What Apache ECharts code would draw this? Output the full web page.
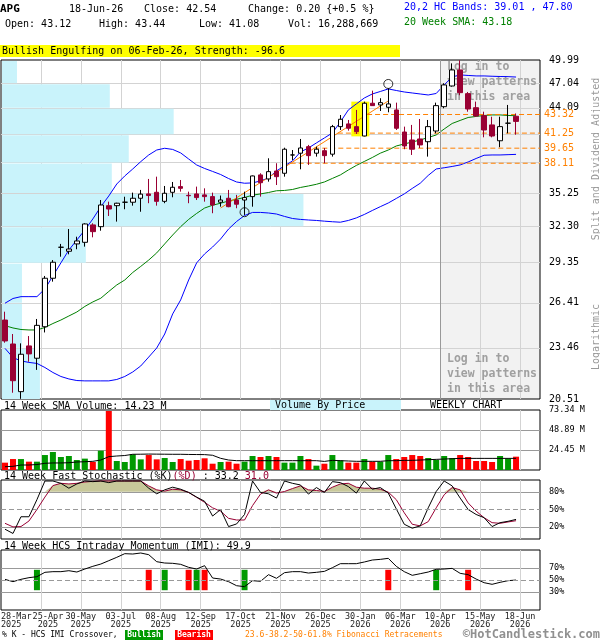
<!DOCTYPE html>
<html>
<head>
<meta charset="utf-8">
<script src="https://cdn.jsdelivr.net/npm/echarts@6.0.0/dist/echarts.min.js"></script>
<style>
html,body{margin:0;padding:0;background:#fff;}
#chart{width:600px;height:640px;}
</style>
</head>
<body>
<div id="chart"></div>
<script>
// ================= DATA (weekly, index 0 = week of 28-Mar-2025) =================
const ticker = 'APG';
const lastDate = '18-Jun-26';
const opens  = [25.24,23.70,20.91,23.58,22.83,24.80,28.17,30.56,30.24,30.83,30.96,32.41,32.26,34.09,34.09,34.40,34.40,34.76,35.16,35.31,34.48,35.31,35.84,35.03,35.16,35.07,34.91,34.40,34.76,34.60,34.60,34.91,36.96,36.57,37.34,37.12,38.95,39.13,39.81,39.13,39.39,39.03,41.96,42.26,41.96,40.94,44.62,44.42,44.15,43.84,41.37,40.51,40.62,40.33,41.48,44.22,46.69,48.70,45.76,44.10,43.19,42.15,40.43,42.34,43.12];
const highs  = [25.80,24.33,23.74,24.20,25.31,28.34,29.55,30.83,32.06,31.42,32.55,32.55,34.60,34.45,34.35,34.90,35.28,35.53,36.57,36.79,35.90,36.28,36.47,35.37,35.84,35.68,35.28,35.01,35.53,35.07,35.37,36.90,37.12,38.61,38.11,39.70,39.46,40.62,39.99,39.81,39.67,42.15,43.26,42.70,43.84,44.81,46.12,45.21,46.41,44.69,41.96,42.15,42.81,42.70,44.69,47.03,49.55,49.95,45.96,44.81,43.64,43.07,43.07,44.42,43.44];
const lows   = [23.78,20.85,20.52,22.62,22.14,24.43,27.92,29.81,30.00,30.40,30.61,31.37,31.92,33.18,32.69,33.77,34.09,33.55,34.31,34.09,34.31,34.85,35.37,34.31,34.60,34.45,33.42,34.00,33.95,33.86,33.27,34.00,34.91,36.31,35.99,36.79,38.44,37.51,37.94,38.78,38.11,38.78,41.59,41.52,41.16,40.90,44.30,43.72,43.57,41.59,39.54,38.95,39.67,38.78,41.23,44.03,46.61,45.57,43.64,43.07,40.80,40.80,39.75,41.23,41.08];
const closes = [23.89,21.52,23.07,23.09,24.89,28.17,29.38,30.56,30.42,31.07,32.49,31.84,34.15,33.79,34.31,34.40,34.76,35.14,35.01,34.48,35.22,35.78,35.68,34.99,34.82,34.91,34.15,34.60,34.00,34.22,34.82,36.86,36.21,37.28,36.79,39.54,38.95,39.67,38.88,39.54,38.88,41.96,42.78,41.78,41.41,44.62,44.34,44.69,44.54,41.78,39.88,39.54,39.99,41.96,44.34,46.82,48.70,45.88,43.95,43.15,41.59,40.94,41.96,42.34,42.54];
const bbUpper = [26.38,26.71,26.84,26.84,26.84,27.39,28.34,29.33,30.34,31.15,31.98,32.92,34.00,34.97,36.09,36.86,37.54,38.27,38.95,39.46,39.64,39.52,39.16,38.54,37.94,37.59,37.30,37.00,36.61,36.28,36.16,36.19,36.38,36.66,37.35,37.84,38.34,39.26,39.67,40.20,40.73,41.27,42.48,43.84,44.54,45.24,45.72,46.02,46.33,46.14,45.96,45.84,45.72,45.60,45.78,46.82,47.81,48.07,48.00,47.94,47.94,47.90,47.87,47.85,47.80];
const sma20 = [24.87,24.72,24.62,24.59,24.59,24.75,25.01,25.24,25.51,25.78,26.16,26.47,26.73,27.21,27.68,28.04,28.60,29.06,29.55,30.11,30.83,31.56,32.26,32.88,33.40,33.88,34.13,34.31,34.51,34.67,34.83,35.04,35.16,35.29,35.45,35.48,35.57,35.76,35.90,36.06,36.28,36.62,36.96,37.44,37.89,38.29,38.69,39.13,39.46,39.88,40.09,40.30,40.51,40.78,41.05,41.70,42.31,42.65,42.98,43.10,43.21,43.27,43.27,43.21,43.18];
const bbLower = [23.43,22.87,22.67,22.58,22.52,22.28,21.99,21.76,21.62,21.53,21.51,21.51,21.51,21.51,21.59,21.76,22.02,22.37,22.90,23.45,24.33,25.65,26.61,28.04,29.33,30.03,30.58,31.23,32.06,32.70,33.22,33.49,33.49,33.44,33.35,33.14,32.96,32.88,32.83,32.79,32.73,32.68,32.64,32.79,33.01,33.31,33.66,34.00,34.33,34.74,35.16,35.67,36.16,36.91,37.54,37.66,37.79,37.94,38.24,38.59,38.92,38.95,38.95,38.98,39.01];
const volumes = [8.96,13.4,13.4,10.2,10.2,18.3,22.0,15.9,17.1,12.2,13.9,9.8,23.6,72.1,11.0,9.8,19.1,13.0,18.3,13.0,14.7,9.8,13.4,11.4,12.2,14.3,7.7,9.8,10.2,7.7,10.2,17.1,15.9,17.1,15.9,9.0,9.0,17.1,13.4,5.3,7.7,18.3,11.8,9.0,9.0,13.4,10.2,10.2,18.3,13.4,15.9,18.3,17.1,14.7,12.2,17.1,14.7,18.3,15.9,11.0,11.0,9.8,17.1,13.9,16.288669];
const volSma14 = [4.0,4.5,6.1,6.1,6.7,8.2,8.6,8.6,8.9,9.8,10.1,10.6,12.2,16.3,17.1,17.7,19.2,19.3,19.5,19.4,19.3,19.2,19.2,19.0,18.9,18.8,18.0,14.3,12.2,11.4,11.4,11.4,11.4,11.4,11.4,11.4,11.4,11.4,11.4,11.4,10.5,11.8,11.4,11.0,10.6,10.6,10.6,10.6,11.4,11.4,11.8,11.8,12.2,12.6,13.0,13.4,13.8,14.2,14.2,14.2,14.2,14.2,14.2,14.2,14.23];
const stochK = [16.6,9.4,37.7,37.7,66.7,98.3,98.3,94.4,86.1,93.3,98.3,97.2,98.3,95.5,98.3,98.3,98.3,98.3,86.1,76.6,83.3,87.8,84.4,78.9,71.1,63.9,38.9,50.0,21.1,25.5,41.6,98.3,78.9,76.6,69.4,98.3,94.4,91.6,76.1,87.2,78.9,97.2,95.5,88.9,77.8,98.3,84.4,87.2,77.8,51.1,25.0,18.3,22.2,52.8,80.5,98.3,90.0,69.4,50.0,41.6,36.1,21.1,27.7,30.0,33.2];
const stochD = [26.6,20.5,21.1,30.5,50.0,71.1,90.5,94.4,93.3,94.4,96.6,97.7,98.3,98.3,98.3,98.3,98.3,98.3,90.0,83.3,81.1,84.4,83.3,78.9,70.5,62.2,52.8,47.2,35.0,32.2,32.2,56.6,76.1,83.3,77.8,80.5,85.5,90.0,83.3,82.2,80.5,87.8,93.3,94.4,87.8,86.1,86.1,84.4,79.4,66.7,44.4,25.0,22.2,29.4,52.8,75.0,87.2,83.3,61.1,47.2,36.1,27.7,26.6,28.9,31.0];
const imi = [51.1,47.2,51.1,53.9,55.5,62.8,63.9,63.9,65.5,63.3,68.3,72.8,76.6,82.2,87.8,93.9,93.3,95.0,92.2,80.5,78.3,77.8,76.1,71.1,68.3,73.9,53.3,51.6,47.2,40.5,38.9,48.9,47.8,58.9,52.8,62.2,63.9,63.9,61.6,62.8,64.4,70.5,77.2,77.2,77.2,80.0,83.3,84.4,86.1,72.8,63.9,57.8,60.5,63.3,67.8,68.3,69.4,61.1,58.9,51.6,45.5,42.8,46.1,48.9,49.9];
const bullishCross = [4,20,24,30,54];
const bearishCross = [18,23,25,48,58];
const engulfingPair = [44,45];
const engulfingText = 'Bullish Engulfing on 06-Feb-26, Strength: -96.6';
const hiddenFrom = 55;              // first week of "log in to view patterns" zone
const priceTicks = [20.51,23.46,26.41,29.35,32.30,35.25,38.19,41.14,44.09,47.04,49.99];
const priceLabels = [20.51,23.46,26.41,29.35,32.30,35.25,44.09,47.04,49.99];
const vbpVolume = [39,21,21,85,303,111,128,173,109,16];   // volume by price, bottom band to top band
const fibLevels = [43.32,41.25,39.65,38.11];
const fibFrom = [27,33.88];
const fibTo = [48,44.89];
const swingPoints = [[30,33.51],[48,46.94]];
const volTicks = [24.45,48.89,73.34];
const stochTicks = [20,50,80];
const imiTicks = [30,50,70];
const dateTickPos = [-0.5,4.5,9.5,14.5,19.5,24.5,29.5,34.5,39.5,44.5,49.5,54.5,59.5,64.5];
const dateTicks = ['28-Mar','25-Apr','30-May','03-Jul','08-Aug','12-Sep','17-Oct','21-Nov','26-Dec','30-Jan','06-Mar','10-Apr','15-May','18-Jun'];
const yearTicks = ['2025','2025','2025','2025','2025','2025','2025','2025','2025','2026','2026','2026','2026','2026'];

// ================= CHART =================
const MONO = '"DejaVu Sans Mono","Liberation Mono",monospace';
const CANDLE_RED = '#990033', VOL_GREEN = '#009900', VOL_RED = '#ff0000';
const BLUE = '#0000ff', SMA_GREEN = '#008000', ORANGE = '#ff8000';
const LIGHT = '#d3d3d3', MID = '#999999', CYAN = '#c9f3fb', KHAKI = '#c8c89a';
const XMIN = -0.5, XMAX = 67;
const N = closes.length;
const pts = a => a.map((v, i) => [i, v]);
const vGrid = dateTickPos.filter(p => p > XMIN);
const L = N - 1;

const chart = echarts.init(document.getElementById('chart'), null, {renderer: 'canvas', width: 600, height: 640});

const dateRich = {
  s: {fontFamily: MONO, fontSize: 8.5, lineHeight: 8, color: '#222'},
  p: {fontFamily: MONO, fontSize: 8.5, lineHeight: 8, color: '#222', padding: [0, 0, 0, 14]}
};
function xAx(gridIndex, labels) {
  return {
    type: 'value', gridIndex, min: XMIN, max: XMAX,
    axisLine: {show: false},
    axisTick: {show: false, customValues: vGrid},
    splitLine: {show: true, lineStyle: {color: LIGHT, width: 1}},
    axisLabel: labels ? {
      show: true, customValues: vGrid, hideOverlap: false,
      formatter: v => {
        const k = dateTickPos.indexOf(v);
        if (k < 1) return '';
        const st = k === 1 ? 'p' : 's';
        return '{' + st + '|' + dateTicks[k] + '}\n{' + st + '|' + yearTicks[k] + '}';
      },
      rich: dateRich,
      fontFamily: MONO, fontSize: 8.5, lineHeight: 8, color: '#222', margin: 3
    } : {show: false}
  };
}
function yAx(gridIndex, min, max, ticks, labels, fmt, size) {
  return {
    type: 'value', gridIndex, min, max, position: 'right',
    axisLine: {show: false},
    axisTick: {show: false, customValues: ticks},
    splitLine: {show: true, lineStyle: {color: MID, width: 1}},
    axisLabel: {show: true, customValues: labels, formatter: fmt, fontFamily: MONO, fontSize: size, color: '#000', margin: 9}
  };
}

const fibSeries = fibLevels.map(lv => {
  const t = Math.log(lv / fibFrom[1]) / Math.log(fibTo[1] / fibFrom[1]);
  const startI = fibFrom[0] + t * (fibTo[0] - fibFrom[0]);
  return {
    type: 'line', xAxisIndex: 1, yAxisIndex: 1, symbol: 'none', silent: true, z: 3,
    data: [[startI, lv], [XMAX, lv]],
    lineStyle: {color: ORANGE, width: 1, type: [5, 3]},
    endLabel: {show: true, formatter: lv.toFixed(2), color: ORANGE, fontFamily: MONO, fontSize: 10, distance: 4}
  };
});

const engHi = Math.max(...engulfingPair.map(i => highs[i]));
const engLo = Math.min(...engulfingPair.map(i => lows[i]));

function crossSeries(list, color) {
  return {
    type: 'custom', xAxisIndex: 5, yAxisIndex: 5, silent: true, z: 2,
    data: list.map(i => [i, 0]),
    encode: {x: 0},
    renderItem: (params, api) => {
      const i = api.value(0);
      const top = api.coord([i, 67]), bot = api.coord([i, 33]);
      return {type: 'rect', shape: {x: top[0] - 3, y: top[1], width: 6, height: bot[1] - top[1]}, style: {fill: color}};
    }
  };
}

const dashed50 = {silent: true, symbol: 'none', label: {show: false},
  lineStyle: {color: MID, type: [5, 3], width: 1}, data: [{yAxis: 50}]};

const chg = closes[L] - closes[L - 1];
const pct = chg / closes[L - 1] * 100;
const sgn = v => (v >= 0 ? '+' : '') ;
const txt = (x, y, text, o = {}) => ({
  type: 'text', x, y, z: o.z || 10, rotation: o.rot || 0, silent: true,
  style: {text, fill: o.color || '#000', font: (o.bold ? 'bold ' : '') + (o.size || 10) + 'px ' + MONO,
    align: o.align || 'left', verticalAlign: 'middle', rich: o.rich}
});

const graphics = [
  txt(0, 9, ticker, {bold: true, size: 11}),
  txt(69, 9, lastDate),
  txt(144, 9, 'Close: ' + closes[L].toFixed(2)),
  txt(248, 9, 'Change: ' + chg.toFixed(2) + ' {' + sgn(chg) + pct.toFixed(1) + ' %}'),
  txt(5, 24, 'Open: ' + opens[L].toFixed(2)),
  txt(99, 24, 'High: ' + highs[L].toFixed(2)),
  txt(199, 24, 'Low: ' + lows[L].toFixed(2)),
  txt(288, 24, 'Vol: ' + Math.round(volumes[L] * 1e6).toLocaleString('en-US')),
  txt(404, 7, '20,2 HC Bands: ' + bbLower[L].toFixed(2) + ' , ' + bbUpper[L].toFixed(2), {color: BLUE}),
  txt(404, 22, '20 Week SMA: ' + sma20[L].toFixed(2), {color: SMA_GREEN}),
  {type: 'rect', x: 0, y: 45, shape: {width: 400, height: 12}, style: {fill: '#ffff00'}, silent: true},
  txt(2, 51, engulfingText),
  txt(596, 159, 'Split and Dividend Adjusted', {rot: Math.PI / 2, align: 'center', color: MID}),
  txt(596, 337, 'Logarithmic', {rot: Math.PI / 2, align: 'center', color: MID}),
  txt(447, 67, 'Log in to', {bold: true, size: 11.5, color: '#a0a0a0', z: 1}),
  txt(447, 82, 'view patterns', {bold: true, size: 11.5, color: '#a0a0a0', z: 1}),
  txt(447, 97, 'in this area', {bold: true, size: 11.5, color: '#a0a0a0', z: 1}),
  txt(447, 359, 'Log in to', {bold: true, size: 11.5, color: '#a0a0a0', z: 1}),
  txt(447, 374, 'view patterns', {bold: true, size: 11.5, color: '#a0a0a0', z: 1}),
  txt(447, 389, 'in this area', {bold: true, size: 11.5, color: '#a0a0a0', z: 1}),
  txt(4, 406, '14 Week SMA Volume: ' + volSma14[L].toFixed(2) + ' M'),
  {type: 'rect', x: 270, y: 400, shape: {width: 131, height: 10}, style: {fill: CYAN}, silent: true},
  txt(275, 405, 'Volume By Price'),
  txt(430, 405, 'WEEKLY CHART'),
  txt(4, 476, '', {rich: {k: {fill: '#000', font: '10px ' + MONO}, d: {fill: CANDLE_RED, font: '10px ' + MONO}}}),
  txt(4, 546, '14 Week HCS Intraday Momentum (IMI): ' + imi[L].toFixed(1)),
  txt(2, 635, '% K - HCS IMI Crossover,', {size: 8}),
  {type: 'rect', x: 125, y: 630, shape: {width: 38, height: 10}, style: {fill: VOL_GREEN}, silent: true},
  txt(144, 635, 'Bullish', {size: 8, bold: true, color: '#fff', align: 'center'}),
  {type: 'rect', x: 175, y: 630, shape: {width: 38, height: 10}, style: {fill: VOL_RED}, silent: true},
  txt(194, 635, 'Bearish', {size: 8, bold: true, color: '#fff', align: 'center'}),
  txt(245, 635, '23.6-38.2-50-61.8% Fibonacci Retracements', {size: 8, color: ORANGE}),
  txt(600, 635, '\u00a9HotCandlestick.com', {size: 12, bold: true, color: '#909090', align: 'right'}),
  // first date label sits on the left edge of the panel, left-aligned
  txt(1, 617, dateTicks[0], {size: 8.5, color: '#222'}),
  txt(1, 625, yearTicks[0], {size: 8.5, color: '#222'})
];
graphics[24].style.text = '{k|14 Week Fast Stochastic (%K)}{d|(%D)}{k| : ' + stochK[L].toFixed(1) + ' }{d|' + stochD[L].toFixed(1) + '}';

const option = {
  animation: false,
  backgroundColor: '#fff',
  textStyle: {fontFamily: MONO},
  grid: [
    {left: 440, top: 60, width: 100, height: 339, show: true, backgroundColor: '#f2f2f2', borderWidth: 0},
    {left: 1, top: 60, width: 539, height: 339, show: true, backgroundColor: 'transparent', borderColor: '#000', borderWidth: 1},
    {left: 1, top: 60, width: 539, height: 339, show: false},
    {left: 1, top: 410, width: 539, height: 60, show: true, backgroundColor: 'transparent', borderColor: '#000', borderWidth: 1},
    {left: 1, top: 480, width: 539, height: 59, show: true, backgroundColor: 'transparent', borderColor: '#000', borderWidth: 1},
    {left: 1, top: 550, width: 539, height: 60, show: true, backgroundColor: 'transparent', borderColor: '#000', borderWidth: 1}
  ],
  xAxis: [
    {type: 'value', gridIndex: 0, show: false, min: 0, max: 1},
    xAx(1, false),
    {type: 'value', gridIndex: 2, show: false, min: 0, max: 540},
    xAx(3, false),
    xAx(4, false),
    xAx(5, true)
  ],
  yAxis: [
    {type: 'value', gridIndex: 0, show: false, min: 0, max: 1},
    {
      type: 'log', gridIndex: 1, min: priceTicks[0], max: priceTicks[priceTicks.length - 1], position: 'right',
      axisLine: {show: false},
      axisTick: {show: false, customValues: priceTicks.slice(1, -1)},
      splitLine: {show: true, lineStyle: {color: LIGHT, width: 1}},
      axisLabel: {show: true, customValues: priceLabels, formatter: v => Number(v).toFixed(2), fontFamily: MONO, fontSize: 10, color: '#000', margin: 9}
    },
    {type: 'log', gridIndex: 2, show: false, min: priceTicks[0], max: priceTicks[priceTicks.length - 1]},
    yAx(3, 0, volTicks[2], volTicks.slice(0, 2), volTicks, v => Number(v).toFixed(2) + ' M', 8.5),
    yAx(4, 0, 100, [stochTicks[0], stochTicks[2]], stochTicks, v => v + '%', 8.5),
    yAx(5, 0, 100, [imiTicks[0], imiTicks[2]], imiTicks, v => v + '%', 8.5)
  ],
  series: [
    { // volume by price
      type: 'custom', xAxisIndex: 2, yAxisIndex: 2, z: 1, silent: true,
      data: vbpVolume.map((v, k) => [v, priceTicks[k], priceTicks[k + 1]]),
      encode: {x: 0, y: [1, 2]},
      renderItem: (params, api) => {
        const a = api.coord([0, api.value(2)]);
        const b = api.coord([api.value(0), api.value(1)]);
        return {type: 'rect', shape: {x: a[0] + 1, y: a[1] + 1, width: b[0] - a[0] - 1, height: b[1] - a[1] - 1}, style: {fill: CYAN}};
      }
    },
    { // engulfing highlight
      type: 'custom', xAxisIndex: 1, yAxisIndex: 1, z: 1, silent: true,
      data: [[engulfingPair[0], engulfingPair[1], engHi, engLo]],
      encode: {x: [0, 1], y: [2, 3]},
      renderItem: (params, api) => {
        const a = api.coord([api.value(0), api.value(2)]);
        const b = api.coord([api.value(1), api.value(3)]);
        return {type: 'rect', shape: {x: a[0] - 5, y: a[1], width: b[0] - a[0] + 10, height: b[1] - a[1]}, style: {fill: '#ffff00'}};
      }
    },
    {
      type: 'line', xAxisIndex: 1, yAxisIndex: 1, data: pts(bbUpper), symbol: 'none', silent: true, z: 2,
      lineStyle: {color: BLUE, width: 1},
      markLine: {silent: true, symbol: 'none', label: {show: false}, lineStyle: {color: MID, type: 'solid', width: 1}, data: [{xAxis: hiddenFrom - 0.5}]}
    },
    {type: 'line', xAxisIndex: 1, yAxisIndex: 1, data: pts(bbLower), symbol: 'none', silent: true, z: 2, lineStyle: {color: BLUE, width: 1}},
    {type: 'line', xAxisIndex: 1, yAxisIndex: 1, data: pts(sma20), symbol: 'none', silent: true, z: 2, lineStyle: {color: SMA_GREEN, width: 1}},
    {type: 'line', xAxisIndex: 1, yAxisIndex: 1, data: [fibFrom, fibTo], symbol: 'none', silent: true, z: 3, lineStyle: {color: ORANGE, width: 1}},
    ...fibSeries,
    {
      type: 'candlestick', xAxisIndex: 1, yAxisIndex: 1, z: 4, silent: true,
      data: opens.map((o, i) => [i, o, closes[i], lows[i], highs[i]]),
      encode: {x: 0, y: [1, 2, 3, 4]},
      barWidth: 5,
      itemStyle: {color: '#ffffff', color0: CANDLE_RED, borderColor: '#000', borderColor0: CANDLE_RED, borderColorDoji: '#000', borderWidth: 1}
    },
    {
      type: 'scatter', xAxisIndex: 1, yAxisIndex: 1, z: 5, silent: true, symbol: 'circle', symbolSize: 9,
      data: swingPoints,
      itemStyle: {color: 'rgba(0,0,0,0)', borderColor: '#000', borderWidth: 1}
    },
    // volume
    {
      type: 'bar', xAxisIndex: 3, yAxisIndex: 3, barWidth: 6, silent: true,
      data: volumes.map((v, i) => ({value: [i, v], itemStyle: {color: closes[i] >= opens[i] ? VOL_GREEN : VOL_RED}}))
    },
    {type: 'line', xAxisIndex: 3, yAxisIndex: 3, data: pts(volSma14), symbol: 'none', silent: true, z: 3, lineStyle: {color: '#000', width: 1}},
    // stochastic
    {
      type: 'line', xAxisIndex: 4, yAxisIndex: 4, symbol: 'none', silent: true, z: 2,
      data: stochD.map((v, i) => [i, Math.max(v, stochTicks[2])]),
      lineStyle: {width: 0, opacity: 0},
      areaStyle: {color: KHAKI, opacity: 1, origin: stochTicks[2]}
    },
    {type: 'line', xAxisIndex: 4, yAxisIndex: 4, data: pts(stochD), symbol: 'none', silent: true, z: 3, lineStyle: {color: CANDLE_RED, width: 1}},
    {type: 'line', xAxisIndex: 4, yAxisIndex: 4, data: pts(stochK), symbol: 'none', silent: true, z: 4, lineStyle: {color: '#000', width: 1}, markLine: dashed50},
    // IMI
    crossSeries(bullishCross, VOL_GREEN),
    crossSeries(bearishCross, VOL_RED),
    {type: 'line', xAxisIndex: 5, yAxisIndex: 5, data: pts(imi), symbol: 'none', silent: true, z: 3, lineStyle: {color: '#000', width: 1}, markLine: dashed50}
  ],
  graphic: {elements: graphics}
};
chart.setOption(option);
</script>
</body>
</html>
